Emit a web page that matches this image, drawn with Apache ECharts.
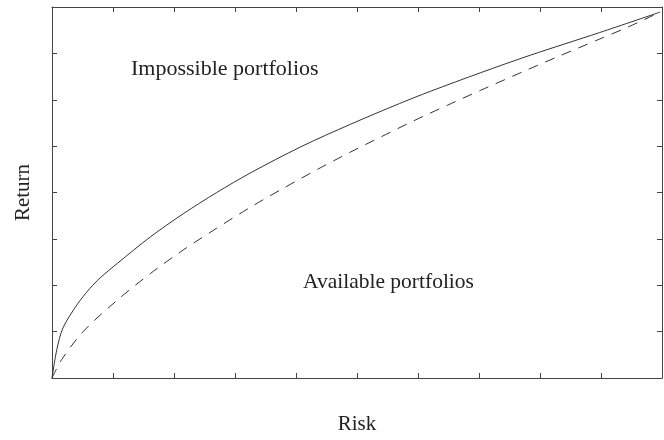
<!DOCTYPE html>
<html>
<head>
<meta charset="utf-8">
<script src="https://cdn.jsdelivr.net/npm/echarts@6/dist/echarts.min.js"></script>
<style>html,body{margin:0;padding:0;background:#fff}#c{width:664px;height:440px}</style>
</head>
<body>
<div id="c"></div>
<script>
var riskFrontier   = [0, 0.08, 0.18, 0.41, 0.62, 0.79, 1.07, 1.61, 2.15, 2.70, 3.25, 4.07, 4.89, 5.70, 6.20, 7.02, 7.84, 8.98, 9.97];
var returnFrontier = [0, 0.62, 1.08, 1.58, 1.93, 2.16, 2.47, 3.04, 3.54, 4.00, 4.42, 4.98, 5.47, 5.92, 6.18, 6.58, 6.96, 7.45, 7.89];
var riskDashed     = [0, 0.16, 0.51, 1.07, 1.61, 2.15, 2.70, 3.25, 3.79, 4.34, 4.89, 5.38, 5.92, 6.48, 7.02, 7.80, 8.33, 8.98, 9.43, 9.97];
var returnDashed   = [0, 0.40, 1.00, 1.68, 2.25, 2.76, 3.23, 3.68, 4.09, 4.49, 4.87, 5.19, 5.54, 5.88, 6.20, 6.65, 6.95, 7.31, 7.56, 7.89];
var labelImpossible = 'Impossible portfolios';
var labelAvailable  = 'Available portfolios';
var xAxisName = 'Risk';
var yAxisName = 'Return';

function pairs(xs, ys){ return xs.map(function(x,i){ return [x, ys[i]]; }); }

var font = "'Liberation Serif','DejaVu Serif',serif";
var axisCommon = {
  type: 'value', min: 0, interval: 1,
  axisLine: {show: true, onZero: false, lineStyle: {color: '#444', width: 1}},
  axisTick: {show: true, inside: true, length: 5, lineStyle: {color: '#444'}},
  axisLabel: {show: false},
  splitLine: {show: false}
};
var chart = echarts.init(document.getElementById('c'));
chart.setOption({
  animation: false,
  backgroundColor: '#fff',
  grid: {left: 52, right: 2, top: 7, bottom: 57},
  xAxis: [
    Object.assign({}, axisCommon, {max: 10, position: 'bottom', name: xAxisName, nameLocation: 'middle', nameGap: 36,
      nameTextStyle: {fontFamily: font, fontSize: 21, color: '#222'}}),
    Object.assign({}, axisCommon, {max: 10, position: 'top'})
  ],
  yAxis: [
    Object.assign({}, axisCommon, {max: 8, position: 'left', name: yAxisName, nameLocation: 'middle', nameGap: 18,
      nameTextStyle: {fontFamily: font, fontSize: 21, color: '#222'}}),
    Object.assign({}, axisCommon, {max: 8, position: 'right'})
  ],
  series: [
    {type: 'line', data: pairs(riskFrontier, returnFrontier), smooth: 0.3, showSymbol: false,
      lineStyle: {color: '#333', width: 1}},
    {type: 'line', data: pairs(riskDashed, returnDashed), smooth: 0.3, showSymbol: false,
      lineStyle: {color: '#333', width: 1, type: [10, 8]}}
  ],
  graphic: [
    {type: 'text', left: 131, top: 58, style: {text: labelImpossible, font: '22px ' + font, fill: '#222'}},
    {type: 'text', left: 303, top: 271, style: {text: labelAvailable, font: '21.5px ' + font, fill: '#222'}}
  ]
});
</script>
</body>
</html>
